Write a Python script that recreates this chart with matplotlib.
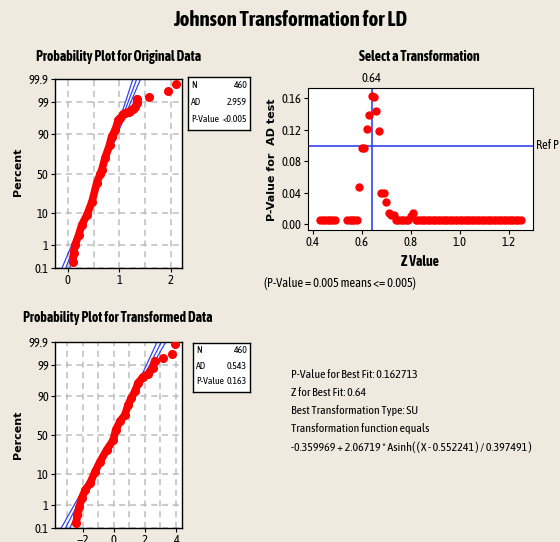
import matplotlib
matplotlib.use('Agg')
import matplotlib.pyplot as plt
from matplotlib.transforms import blended_transform_factory
from statistics import NormalDist

# Percent scale ticks for the probability plots
pct_ticks = [0.1, 1, 10, 50, 90, 99, 99.9]
pct_labels = ['0.1', '1', '10', '50', '90', '99', '99.9']

# Original data (sorted values vs. percent)
orig_x = [0.10, 0.11, 0.14, 0.21, 0.27, 0.37, 0.47, 0.56, 0.63, 0.66, 0.72, 0.81,
          0.85, 0.92, 0.98, 1.02, 1.08, 1.11, 1.18, 1.21, 1.27, 1.31, 1.34, 1.35]
orig_pct = [0.2, 0.45, 0.96, 2.2, 4.6, 8.7, 17.9, 37.4, 50.0, 54.4, 69.1, 82.4,
            88.5, 92.2, 96.0, 96.4, 97.4, 97.6, 97.8, 97.9, 98.3, 98.5, 98.9, 99.27]
orig_out_x = [1.58, 1.95, 2.10]
orig_out_pct = [99.36, 99.65, 99.83]

# fitted normal line and confidence band for original data
band_pct = [0.05, 1, 10, 50, 90, 99, 99.95]
orig_fit = [-0.084, 0.130, 0.365, 0.65, 0.935, 1.170, 1.384]
orig_lo = [-0.164, 0.078, 0.338, 0.637, 0.908, 1.118, 1.304]
orig_hi = [-0.004, 0.182, 0.392, 0.663, 0.962, 1.222, 1.464]

# Transformed data
trans_x = [-2.44, -2.36, -2.23, -2.07, -1.86, -1.54, -1.22, -0.90, -0.47, -0.04, 0.12,
           0.39, 0.71, 0.92, 1.13, 1.35, 1.56, 1.88, 2.20, 2.52, 2.63]
trans_pct = [0.17, 0.39, 0.87, 1.79, 3.36, 5.4, 11.1, 18.7, 30.9, 43.3, 57.1,
             67.4, 74.9, 84.4, 89.1, 92.6, 95.8, 97.3, 97.9, 98.7, 99.32]
trans_out_x = [3.15, 3.72, 3.96]
trans_out_pct = [99.48, 99.65, 99.87]

trans_fit = [-3.32, -2.36, -1.31, -0.03, 1.25, 2.30, 3.26]
trans_lo = [-3.62, -2.56, -1.41, -0.08, 1.15, 2.10, 2.96]
trans_hi = [-3.02, -2.16, -1.21, 0.02, 1.35, 2.50, 3.56]

# Z value search: P-value for AD test
z_vals = [0.43, 0.44, 0.45, 0.46, 0.47, 0.48, 0.49,
          0.54, 0.55, 0.56, 0.57, 0.58,
          0.59, 0.60, 0.61, 0.62, 0.63, 0.64, 0.65, 0.66, 0.67, 0.68, 0.69,
          0.70, 0.71, 0.72, 0.73, 0.74, 0.75, 0.76, 0.77, 0.78, 0.79,
          0.80, 0.81, 0.82, 0.83, 0.84, 0.85, 0.86, 0.87, 0.88, 0.89,
          0.90, 0.91, 0.92, 0.93, 0.94, 0.95, 0.96, 0.97, 0.98, 0.99,
          1.00, 1.01, 1.02, 1.03, 1.04, 1.05, 1.06, 1.07, 1.08, 1.09,
          1.10, 1.11, 1.12, 1.13, 1.14, 1.15, 1.16, 1.17, 1.18, 1.19,
          1.20, 1.21, 1.22, 1.23, 1.24, 1.25]
p_vals = [0.005, 0.005, 0.005, 0.005, 0.005, 0.005, 0.005,
          0.005, 0.005, 0.005, 0.005, 0.005,
          0.047, 0.097, 0.097, 0.121, 0.139, 0.163, 0.161, 0.144, 0.119, 0.040, 0.040,
          0.028, 0.015, 0.012, 0.012, 0.005, 0.005, 0.005, 0.005, 0.005, 0.005,
          0.010, 0.014, 0.005, 0.005, 0.005, 0.005, 0.005, 0.005, 0.005, 0.005,
          0.005, 0.005, 0.005, 0.005, 0.005, 0.005, 0.005, 0.005, 0.005, 0.005,
          0.005, 0.005, 0.005, 0.005, 0.005, 0.005, 0.005, 0.005, 0.005, 0.005,
          0.005, 0.005, 0.005, 0.005, 0.005, 0.005, 0.005, 0.005, 0.005, 0.005,
          0.005, 0.005, 0.005, 0.005, 0.005, 0.005]
best_z = 0.64
ref_p = 0.10

stats_orig = [('N', '460'), ('AD', '2.959'), ('P-Value', '<0.005')]
stats_trans = [('N', '460'), ('AD', '0.543'), ('P-Value', '0.163')]

info_lines = ['P-Value for Best Fit: 0.162713',
              'Z for Best Fit: 0.64',
              'Best Transformation Type: SU',
              'Transformation function equals',
              '-0.359969 + 2.06719 * Asinh( ( X - 0.552241 ) / 0.397491 )']

NARROW = ['Asap Condensed', 'Liberation Sans', 'DejaVu Sans']
BG = '#EEEADF'
RED = '#FF0000'
BLUE = '#3344EE'
W, H = 560, 542

nd = NormalDist()


def q(p):
    return nd.inv_cdf(p / 100.0)


fig = plt.figure(figsize=(W / 100, H / 100), dpi=100, facecolor=BG)


def axes_px(l, t, r, b):
    return fig.add_axes([l / W, 1 - b / H, (r - l) / W, (b - t) / H])


def ftext(x, y, s, **kw):
    kw.setdefault('family', NARROW)
    return fig.text(x / W, 1 - y / H, s, **kw)


def prob_plot(ax, xs, pcts, out_x, out_pct, fit, lo, hi, xlim, major, minor):
    ax.set_facecolor('white')
    zb = [q(p) for p in band_pct]
    for line in (lo, fit, hi):
        ax.plot(line, zb, color=BLUE, lw=0.9, zorder=2)
    zs = [q(p) for p in pcts]
    ax.plot(xs, zs, color=RED, lw=5.5, solid_capstyle='round', zorder=3)
    ax.plot(xs, zs, 'o', color=RED, ms=5.5, zorder=3)
    ax.plot(out_x, [q(p) for p in out_pct], 'o', color=RED, ms=5.5, zorder=3)
    ax.set_xlim(*xlim)
    ax.set_ylim(q(0.1), q(99.9))
    ax.set_yticks([q(p) for p in pct_ticks])
    ax.set_yticklabels(pct_labels)
    ax.set_xticks(major)
    ax.set_xticks(minor, minor=True)
    ax.tick_params(axis='x', which='minor', length=0)
    ax.grid(True, which='both', color='#BDBDBD', ls=(0, (4, 3)), lw=1.1)
    ax.set_axisbelow(True)
    ax.tick_params(labelsize=9, length=3, width=0.8, pad=1.5)
    for lab in ax.get_xticklabels() + ax.get_yticklabels():
        lab.set_family(NARROW)
    for sp in ax.spines.values():
        sp.set_linewidth(1.0)


def stats_box(l, t, r, b, rows):
    bx = axes_px(l, t, r, b)
    bx.set_xticks([])
    bx.set_yticks([])
    bx.set_facecolor('white')
    for sp in bx.spines.values():
        sp.set_linewidth(1.0)
    n = len(rows)
    for i, (k, v) in enumerate(rows):
        yy = 1 - (i + 0.5) / (n + 0.15)
        bx.text(0.05, yy, k, fontsize=7, family=NARROW, va='center', ha='left')
        bx.text(0.95, yy, v, fontsize=7, family=NARROW, va='center', ha='right')


# Title
ftext(290, 20, 'Johnson Transformation for LD', fontsize=15, weight='bold',
      ha='center', va='center')

# Top-left: original data
ax1 = axes_px(55, 79, 182, 268)
prob_plot(ax1, orig_x, orig_pct, orig_out_x, orig_out_pct, orig_fit, orig_lo, orig_hi,
          (-0.25, 2.22), [0, 1, 2], [0.5, 1.5])
ftext(119, 57, 'Probability Plot for Original Data', fontsize=10, weight='bold',
      ha='center', va='center')
ftext(18, 172, 'Percent', fontsize=8, weight='bold', rotation=90, ha='center',
      va='center', family='DejaVu Sans')
stats_box(188, 77, 250, 130, stats_orig)

# Top-right: select a transformation
ax2 = axes_px(308, 88, 533, 230)
ax2.set_facecolor('white')
ax2.plot(z_vals, p_vals, 'o', color=RED, ms=5, zorder=3)
ax2.axvline(best_z, color=BLUE, lw=1.2, zorder=2)
ax2.axhline(ref_p, color=BLUE, lw=1.2, zorder=2)
ax2.set_xlim(0.38, 1.30)
ax2.set_ylim(-0.0072, 0.173)
ax2.set_xticks([0.4, 0.6, 0.8, 1.0, 1.2])
ax2.set_yticks([0.00, 0.04, 0.08, 0.12, 0.16])
ax2.set_xticklabels(['0.4', '0.6', '0.8', '1.0', '1.2'])
ax2.set_yticklabels(['0.00', '0.04', '0.08', '0.12', '0.16'])
ax2.tick_params(labelsize=9, length=3, width=0.8, pad=1.5)
for lab in ax2.get_xticklabels() + ax2.get_yticklabels():
    lab.set_family(NARROW)
trans = blended_transform_factory(ax2.transData, ax2.transAxes)
ax2.text(best_z, 1.02, '0.64', transform=trans, ha='center', va='bottom',
         fontsize=9, family=NARROW)
ax2.text(1.015, ref_p, 'Ref P', transform=blended_transform_factory(ax2.transAxes, ax2.transData),
         ha='left', va='center', fontsize=9, family=NARROW, clip_on=False)
ftext(419, 57, 'Select a Transformation', fontsize=10, weight='bold',
      ha='center', va='center')
ftext(420, 262, 'Z Value', fontsize=10, weight='bold', ha='center', va='center')
ftext(272, 160, 'P-Value for  AD test', fontsize=8, weight='bold', rotation=90,
      ha='center', va='center', family='DejaVu Sans')
ftext(264, 284, '(P-Value = 0.005 means <= 0.005)', fontsize=9, ha='left', va='center')

# Bottom-left: transformed data
ax3 = axes_px(55, 342, 182, 528)
prob_plot(ax3, trans_x, trans_pct, trans_out_x, trans_out_pct, trans_fit, trans_lo, trans_hi,
          (-3.8, 4.39), [-2, 0, 2, 4], [-3, -1, 1, 3])
ftext(118, 318, 'Probability Plot for Transformed Data', fontsize=10, weight='bold',
      ha='center', va='center')
ftext(18, 435, 'Percent', fontsize=8, weight='bold', rotation=90, ha='center',
      va='center', family='DejaVu Sans')
stats_box(193, 343, 250, 392, stats_trans)

# Best fit summary
for i, line in enumerate(info_lines):
    ftext(291, 374 + i * 18.2, line, fontsize=8.6, ha='left', va='center')

fig.savefig('out.png', dpi=100, facecolor=BG)
